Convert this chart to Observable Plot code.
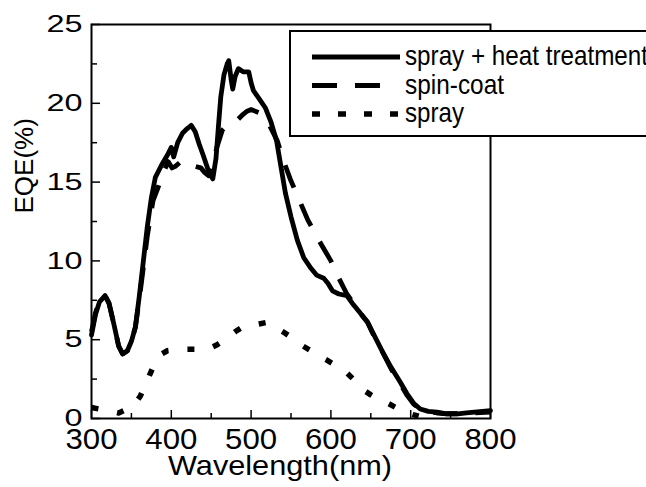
<!DOCTYPE html>
<html><head><meta charset="utf-8">
<script src="https://cdn.jsdelivr.net/npm/d3@7"></script>
<script src="https://cdn.jsdelivr.net/npm/@observablehq/plot@0.6"></script>
<style>html,body{margin:0;padding:0;background:#fff}#chart svg{display:block}</style>
</head><body><div id="chart"></div>
<script>
// spray + heat treatment
const wlHeat = [300,305,310,317,322,328,334,339,345,350,355,360,365,370,375,380,388,395,400,403,408,414,420,425,430,435,440,446,452,456,459,462,466,470,472,475,477,480,484,490,497,500,503,510,518,525,532,538,543,550,558,566,574,582,591,596,602,610,620,627,635,646,656,666,676,687,695,704,712,722,733,745,759,770,780,790,800];
const eqeHeat = [5.3,6.6,7.4,7.8,7.3,6.0,4.6,4.1,4.3,4.9,5.8,7.8,10.0,12.2,14.0,15.3,16.1,16.7,17.2,16.6,17.5,18.1,18.4,18.6,18.2,17.4,16.7,15.8,15.2,16.5,18.5,20.4,21.8,22.5,22.7,21.5,20.9,21.7,22.2,22.0,22.0,21.3,20.8,20.3,19.7,18.8,17.6,15.8,14.3,12.8,11.3,10.2,9.6,9.1,8.9,8.6,8.1,7.9,7.8,7.3,6.8,6.1,5.1,4.1,3.2,2.3,1.6,0.95,0.6,0.45,0.4,0.3,0.3,0.35,0.4,0.45,0.5];
// spin-coat
const wlSpin = [300,305,310,317,322,328,334,339,345,350,355,360,365,370,377,383,390,396,401,405,412,418,425,430,437,442,447,452,457,464,470,476,484,490,495,500,510,522,533,541,549,560,571,585,600,610,620,627,635,646,658,666,676,687,695,704,712,722,733,745,760,780,800];
const eqeSpin = [5.5,6.7,7.5,7.8,7.3,6.0,4.6,4.1,4.3,4.9,5.8,7.6,9.6,11.6,13.8,14.6,15.6,16.3,15.9,16.0,16.3,16.3,16.2,16.0,15.9,15.6,15.4,16.0,17.2,18.3,18.6,18.8,19.0,19.3,19.5,19.6,19.4,18.7,17.6,16.3,15.2,13.9,12.6,11.3,10.0,8.9,7.9,7.4,6.8,6.1,4.8,4.1,3.1,2.2,1.5,0.9,0.6,0.45,0.35,0.3,0.3,0.35,0.4];
// spray
const wlSpray = [300,310,320,334,345,355,361,368,374,380,388,395,410,426,440,450,458,470,480,489,500,510,520,530,540,552,565,575,584,595,605,616,628,641,650,660,672,685,695,703,710];
const eqeSpray = [0.7,0.6,0.5,0.35,0.6,1.0,1.4,2.2,2.9,3.6,4.1,4.3,4.4,4.4,4.4,4.5,4.7,5.1,5.5,5.8,5.9,6.0,6.1,5.8,5.5,5.1,4.6,4.3,4.0,3.7,3.4,3.1,2.5,1.8,1.5,1.2,0.95,0.6,0.4,0.25,0.15];

const seriesNames = ["spray + heat treatment", "spin-coat", "spray"];
const xTicks = [300, 400, 500, 600, 700, 800];
const xMinor = [350, 450, 550, 650, 750];
const yTicks = [0, 5, 10, 15, 20, 25];
const yMinor = [2.5, 7.5, 12.5, 17.5, 22.5];
const xLabel = "Wavelength(nm)";
const yLabel = "EQE(%)";

const rows = (w, e) => w.map((x, i) => ({x, y: e[i]}));

const W = 646, H = 487, mL = 91, mR = 156, mT = 24, mB = 69;
const pw = W - mL - mR, ph = H - mT - mB;
const font = "'Liberation Sans', Arial, Helvetica, sans-serif";

const svg = Plot.plot({
  width: W, height: H,
  marginLeft: mL, marginRight: mR, marginTop: mT, marginBottom: mB,
  x: {domain: [300, 800]},
  y: {domain: [0, 25]},
  style: {fontFamily: font, background: "#fff", color: "#000"},
  marks: [
    Plot.line(rows(wlSpray, eqeSpray), {x: "x", y: "y", stroke: "#000", strokeWidth: 5.5, strokeDasharray: "7,19", strokeLinecap: "butt"}),
    Plot.line(rows(wlSpin, eqeSpin), {x: "x", y: "y", stroke: "#000", strokeWidth: 4.8, strokeDasharray: "24,18", strokeLinecap: "butt"}),
    Plot.line(rows(wlHeat, eqeHeat), {x: "x", y: "y", stroke: "#000", strokeWidth: 4.8}),
    Plot.ruleX(xTicks, {x: d => d, insetTop: ph - 8, stroke: "#000", strokeWidth: 1.5}),
    Plot.ruleX(xMinor, {x: d => d, insetTop: ph - 5, stroke: "#000", strokeWidth: 1.5}),
    Plot.ruleY(yTicks, {y: d => d, insetRight: pw - 9, stroke: "#000", strokeWidth: 1.5}),
    Plot.ruleY(yMinor, {y: d => d, insetRight: pw - 6, stroke: "#000", strokeWidth: 1.5}),
    Plot.frame({stroke: "#000", strokeWidth: 2}),
    Plot.axisX(xTicks, {tickSize: 0, tickPadding: 10, fontSize: 29, label: null}),
    Plot.axisY(yTicks, {tickSize: 0, tickPadding: 9, fontSize: 24, label: null}),
    Plot.text([xLabel], {text: d => d, frameAnchor: "bottom", dy: 56, dx: -11, lineAnchor: "bottom", fontSize: 28, fill: "#000"}),
    Plot.text([yLabel], {text: d => d, frameAnchor: "left", rotate: -90, dx: -67, dy: -8, fontSize: 26, fill: "#000"})
  ]
});

// widen tick labels to match reference proportions
d3.select(svg).selectAll('g[aria-label="y-axis tick label"] text').each(function() {
  const t = this.textContent;
  this.setAttribute("textLength", t.length * 18);
  this.setAttribute("lengthAdjust", "spacingAndGlyphs");
});
d3.select(svg).selectAll('g[aria-label="x-axis tick label"] text').each(function() {
  this.setAttribute("textLength", 52);
  this.setAttribute("lengthAdjust", "spacingAndGlyphs");
});
d3.select(svg).selectAll('g[aria-label="text"] text').each(function() {
  if (this.textContent === xLabel) {
    this.setAttribute("textLength", 224);
    this.setAttribute("lengthAdjust", "spacingAndGlyphs");
  }
});

// legend
const s = d3.select(svg);
const lg = s.append("g").attr("aria-label", "legend").attr("text-anchor", "start");
lg.append("rect").attr("x", 290).attr("y", 31).attr("width", 400).attr("height", 105)
  .attr("fill", "#fff").attr("stroke", "#000").attr("stroke-width", 2);
const dashes = [null, "25,18", "8,18"];
const widths = [5, 5, 5.5];
const lens = [243, 99, 59];
seriesNames.forEach((name, i) => {
  const yy = 57 + i * 28.5;
  lg.append("line").attr("x1", 312).attr("x2", i === 0 ? 400 : 398).attr("y1", yy).attr("y2", yy)
    .attr("stroke", "#000").attr("stroke-width", widths[i]).attr("stroke-dasharray", dashes[i]);
  lg.append("text").attr("x", 405).attr("y", 65 + i * 28.5).attr("font-size", 28)
    .attr("font-family", font).attr("fill", "#000").attr("text-anchor", "start")
    .attr("textLength", lens[i]).attr("lengthAdjust", "spacingAndGlyphs").text(name);
});

document.getElementById("chart").appendChild(svg);
</script>
</body></html>
